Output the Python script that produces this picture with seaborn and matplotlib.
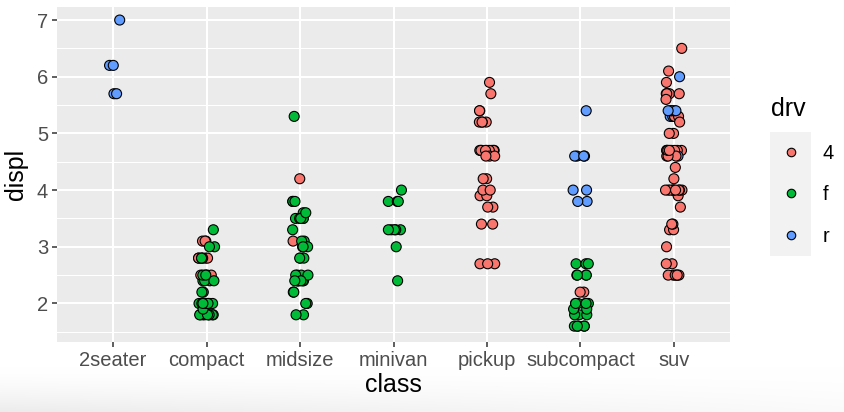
import numpy as np
import pandas as pd
import matplotlib
matplotlib.use("Agg")
import matplotlib.pyplot as plt
from matplotlib.patches import Rectangle
import seaborn as sns

# mpg data: displ and drv for each class
class_order = ["2seater", "compact", "midsize", "minivan", "pickup", "subcompact", "suv"]
drv_order = ["4", "f", "r"]
drv_colors = ["#F8766D", "#00BA38", "#619CFF"]

displ_2seater = [5.7, 5.7, 6.2, 6.2, 7.0]
drv_2seater = "rrrrr"

displ_compact = [1.8, 1.8, 2.0, 2.0, 2.8, 2.8, 3.1,
                 1.8, 1.8, 2.0, 2.0, 2.8, 2.8, 3.1, 3.1,
                 2.4, 2.4,
                 2.5, 2.5, 2.5, 2.5,
                 2.2, 2.2, 2.4, 2.4, 3.0, 3.0, 3.3,
                 1.8, 1.8, 1.8, 1.8, 1.8,
                 2.0, 2.0, 2.0, 2.0, 2.8,
                 1.9, 2.0, 2.0, 2.0, 2.0, 2.5, 2.5, 2.8, 2.8]
drv_compact = "fffffff" + "44444444" + "ff" + "4444" + "fffffff" + "fffff" + "fffff" + "fffffffff"

displ_midsize = [2.8, 3.1, 4.2,
                 2.4, 2.4, 3.1, 3.5, 3.6,
                 2.4, 2.4, 2.5, 2.5, 2.4, 2.4, 3.3,
                 2.5, 2.5, 3.5, 3.5,
                 3.0, 3.0, 3.5,
                 3.1, 3.8, 3.8, 3.8, 5.3,
                 2.2, 2.2, 2.4, 2.4, 3.0, 3.0, 3.5,
                 1.8, 1.8, 2.0, 2.0, 2.8, 2.8, 3.6]
drv_midsize = "444" + "f" * 38

displ_minivan = [2.4, 3.0, 3.3, 3.3, 3.3, 3.3, 3.3, 3.8, 3.8, 3.8, 4.0]
drv_minivan = "f" * 11

displ_pickup = [3.7, 3.7, 3.9, 3.9, 4.7, 4.7, 4.7, 5.2, 5.2,
                4.7, 4.7, 4.7, 4.7, 4.7, 4.7, 5.2, 5.2, 5.7, 5.9,
                4.2, 4.2, 4.6, 4.6, 4.6, 5.4, 5.4,
                2.7, 2.7, 2.7, 3.4, 3.4, 4.0, 4.0]
drv_pickup = "4" * 33

displ_subcompact = [3.8, 3.8, 4.0, 4.0, 4.6, 4.6, 4.6, 4.6, 5.4,
                    1.6, 1.6, 1.6, 1.6, 1.6, 1.8, 1.8, 1.8, 2.0,
                    2.0, 2.0, 2.0, 2.0, 2.7, 2.7, 2.7,
                    2.2, 2.2, 2.5, 2.5,
                    1.9, 1.9, 2.0, 2.0, 2.5, 2.5]
drv_subcompact = "r" * 9 + "f" * 16 + "4444" + "f" * 6

displ_suv = [5.3, 5.3, 5.3, 5.7, 6.0,
             5.3, 5.3, 5.7, 6.5,
             3.9, 4.7, 4.7, 4.7, 5.2, 5.7, 5.9,
             4.6, 5.4, 5.4,
             4.0, 4.0, 4.0, 4.0, 4.6, 5.0,
             3.0, 3.7, 4.0, 4.7, 4.7, 4.7, 5.7, 6.1,
             4.0, 4.2, 4.4, 4.6,
             5.4, 5.4, 5.4,
             4.0, 4.0, 4.6, 5.0,
             3.3, 3.3, 4.0, 5.6,
             2.5, 2.5, 2.5, 2.5, 2.5, 2.5,
             2.7, 2.7, 3.4, 3.4, 4.0, 4.7,
             4.7, 5.7]
drv_suv = "rrrrr" + "4" * 11 + "rrr" + "4" * 18 + "rrr" + "4" * 22

groups = {
    "2seater": (displ_2seater, drv_2seater),
    "compact": (displ_compact, drv_compact),
    "midsize": (displ_midsize, drv_midsize),
    "minivan": (displ_minivan, drv_minivan),
    "pickup": (displ_pickup, drv_pickup),
    "subcompact": (displ_subcompact, drv_subcompact),
    "suv": (displ_suv, drv_suv),
}
rows = []
for cls, (dis, drv) in groups.items():
    for d, v in zip(dis, drv):
        rows.append((cls, d, v))
df = pd.DataFrame(rows, columns=["class", "displ", "drv"])

plt.rcParams["font.family"] = ["Liberation Sans", "DejaVu Sans"]

fig = plt.figure(figsize=(8.44, 4.12), dpi=100)

# soft shade at the bottom edge
bg = fig.add_axes([0, 0, 1, 45 / 412], zorder=-5)
tv = np.linspace(0, 1, 50)[:, None] ** 1.5
th = np.linspace(0, 1, 200)[None, :]
shade = 1 - 0.075 * tv * (1 - 0.75 * th)
bg.imshow(np.dstack([shade, shade, shade]), aspect="auto", origin="upper",
          extent=[0, 1, 0, 1], vmin=0, vmax=1)
bg.axis("off")

ax = fig.add_axes([57 / 844, (412 - 342) / 412, (730 - 57) / 844, (342 - 7) / 412])
ax.set_facecolor("#EBEBEB")

np.random.seed(3)
sns.stripplot(data=df, x="class", y="displ", hue="drv", order=class_order,
              hue_order=drv_order, palette=drv_colors, jitter=0.09, size=7.2,
              linewidth=0.8, edgecolor="black", ax=ax, zorder=3)

ax.set_xlim(-0.6, 6.6)
ax.set_ylim(1.32, 7.23)
ax.set_yticks([2, 3, 4, 5, 6, 7])
ax.set_yticks([1.5, 2.5, 3.5, 4.5, 5.5, 6.5], minor=True)
ax.grid(which="major", color="white", linewidth=1.5)
ax.grid(which="minor", axis="y", color="white", linewidth=0.75)
ax.set_axisbelow(True)
for s in ax.spines.values():
    s.set_visible(False)
ax.tick_params(which="major", length=3.5, width=1.1, color="#333333",
               labelsize=14.5, labelcolor="#4D4D4D", pad=3)
ax.tick_params(which="minor", length=0)
ax.set_xlabel("class", fontsize=18, labelpad=2)
ax.set_ylabel("displ", fontsize=18, labelpad=6)

handles, labels = ax.get_legend_handles_labels()
ax.get_legend().remove()
fig.patches.append(Rectangle((770 / 844, (412 - 256) / 412), 41 / 844, 124 / 412,
                             transform=fig.transFigure, facecolor="#F2F2F2",
                             edgecolor="none", zorder=0))
leg = fig.legend(handles, labels, title="drv", loc="upper left",
                 bbox_to_anchor=(763 / 844, (412 - 89) / 412), frameon=False,
                 fontsize=14.5, title_fontsize=18, handletextpad=0.55,
                 labelspacing=1.12, markerscale=0.85, borderaxespad=0)
leg._legend_box.align = "left"

fig.savefig("out.png", dpi=100)
